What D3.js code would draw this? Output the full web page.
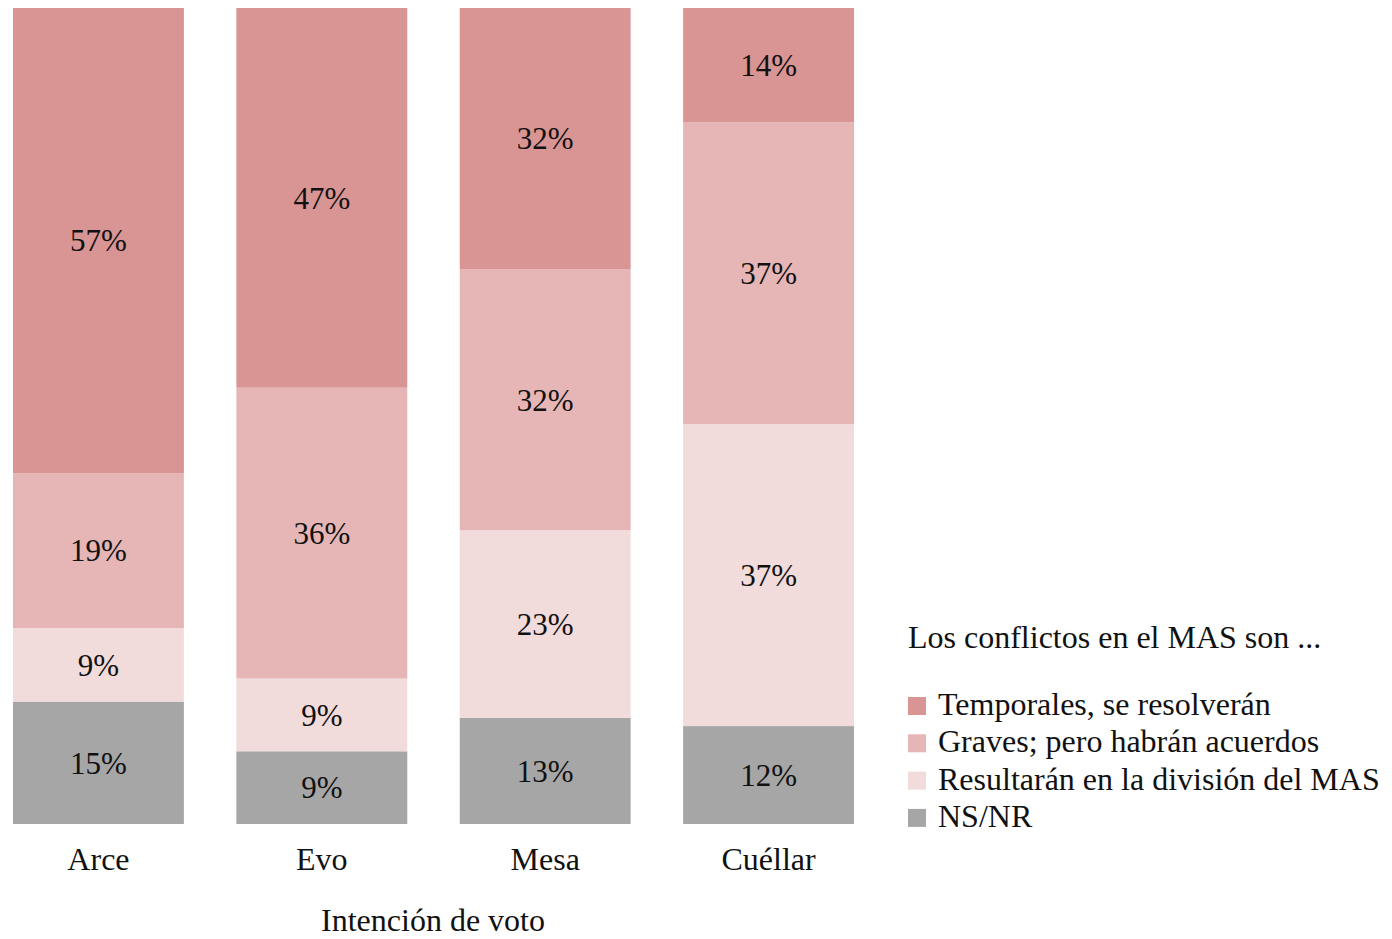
<!DOCTYPE html>
<html>
<head>
<meta charset="utf-8">
<script src="https://cdn.jsdelivr.net/npm/d3@7"></script>
<style>
  body { margin: 0; background: #fff; }
  text { font-family: "Liberation Serif", "Times New Roman", serif; fill: #111; }
</style>
</head>
<body>
<svg id="chart"></svg>
<script>
const candidates = ["Arce", "Evo", "Mesa", "Cuéllar"];
const seriesNames = ["Temporales, se resolverán", "Graves; pero habrán acuerdos", "Resultarán en la división del MAS", "NS/NR"];
const temporales = [57, 47, 32, 14];
const graves = [19, 36, 32, 37];
const division = [9, 9, 23, 37];
const nsnr = [15, 9, 13, 12];
const colors = ["#d99494", "#e6b6b6", "#f2dbdb", "#a6a6a6"];

const width = 1392, height = 939;
const svg = d3.select("#chart").attr("width", width).attr("height", height);

const rows = candidates.map((c, i) => ({
  cand: c,
  [seriesNames[0]]: temporales[i],
  [seriesNames[1]]: graves[i],
  [seriesNames[2]]: division[i],
  [seriesNames[3]]: nsnr[i]
}));

// bottom-up order: NS/NR at the bottom, Temporales on top
const stackKeys = seriesNames.slice().reverse();
const stacked = d3.stack().keys(stackKeys).offset(d3.stackOffsetExpand)(rows);

const x = d3.scaleBand().domain(candidates).range([13, 854]).paddingInner(0.235).paddingOuter(0);
const y = d3.scaleLinear().domain([0, 1]).range([824, 8]);
const color = d3.scaleOrdinal().domain(seriesNames).range(colors);

const layers = svg.selectAll("g.layer")
  .data(stacked)
  .enter().append("g")
  .attr("class", "layer")
  .attr("fill", d => color(d.key));

layers.selectAll("rect")
  .data(d => d)
  .enter().append("rect")
  .attr("x", d => x(d.data.cand))
  .attr("y", d => y(d[1]))
  .attr("width", x.bandwidth())
  .attr("height", d => y(d[0]) - y(d[1]));

layers.each(function(layer) {
  d3.select(this).selectAll("text")
    .data(layer)
    .enter().append("text")
    .attr("x", d => x(d.data.cand) + x.bandwidth() / 2)
    .attr("y", d => (y(d[0]) + y(d[1])) / 2)
    .attr("dy", "0.35em")
    .attr("text-anchor", "middle")
    .style("font-size", "31px")
    .text(d => d.data[layer.key] + "%");
});

// category axis
const xAxis = svg.append("g")
  .attr("transform", "translate(0,824)")
  .call(d3.axisBottom(x).tickSize(0).tickPadding(0));
xAxis.select(".domain").remove();
xAxis.selectAll("text")
  .attr("y", 46)
  .attr("dy", 0)
  .style("font-size", "32px")
  .style("font-family", "Liberation Serif, Times New Roman, serif")
  .attr("fill", "#111");

svg.append("text")
  .attr("x", 433)
  .attr("y", 931)
  .attr("text-anchor", "middle")
  .style("font-size", "32px")
  .text("Intención de voto");

// legend
const legend = svg.append("g").attr("transform", "translate(908,0)");
legend.append("text")
  .attr("x", 0)
  .attr("y", 648)
  .style("font-size", "32px")
  .text("Los conflictos en el MAS son ...");

const items = legend.selectAll("g.item")
  .data(seriesNames)
  .enter().append("g")
  .attr("class", "item")
  .attr("transform", (d, i) => `translate(0,${697 + i * 37.3})`);
items.append("rect")
  .attr("width", 18)
  .attr("height", 18)
  .attr("fill", d => color(d));
items.append("text")
  .attr("x", 30)
  .attr("y", 18)
  .style("font-size", "32px")
  .text(d => d);
</script>
</body>
</html>
